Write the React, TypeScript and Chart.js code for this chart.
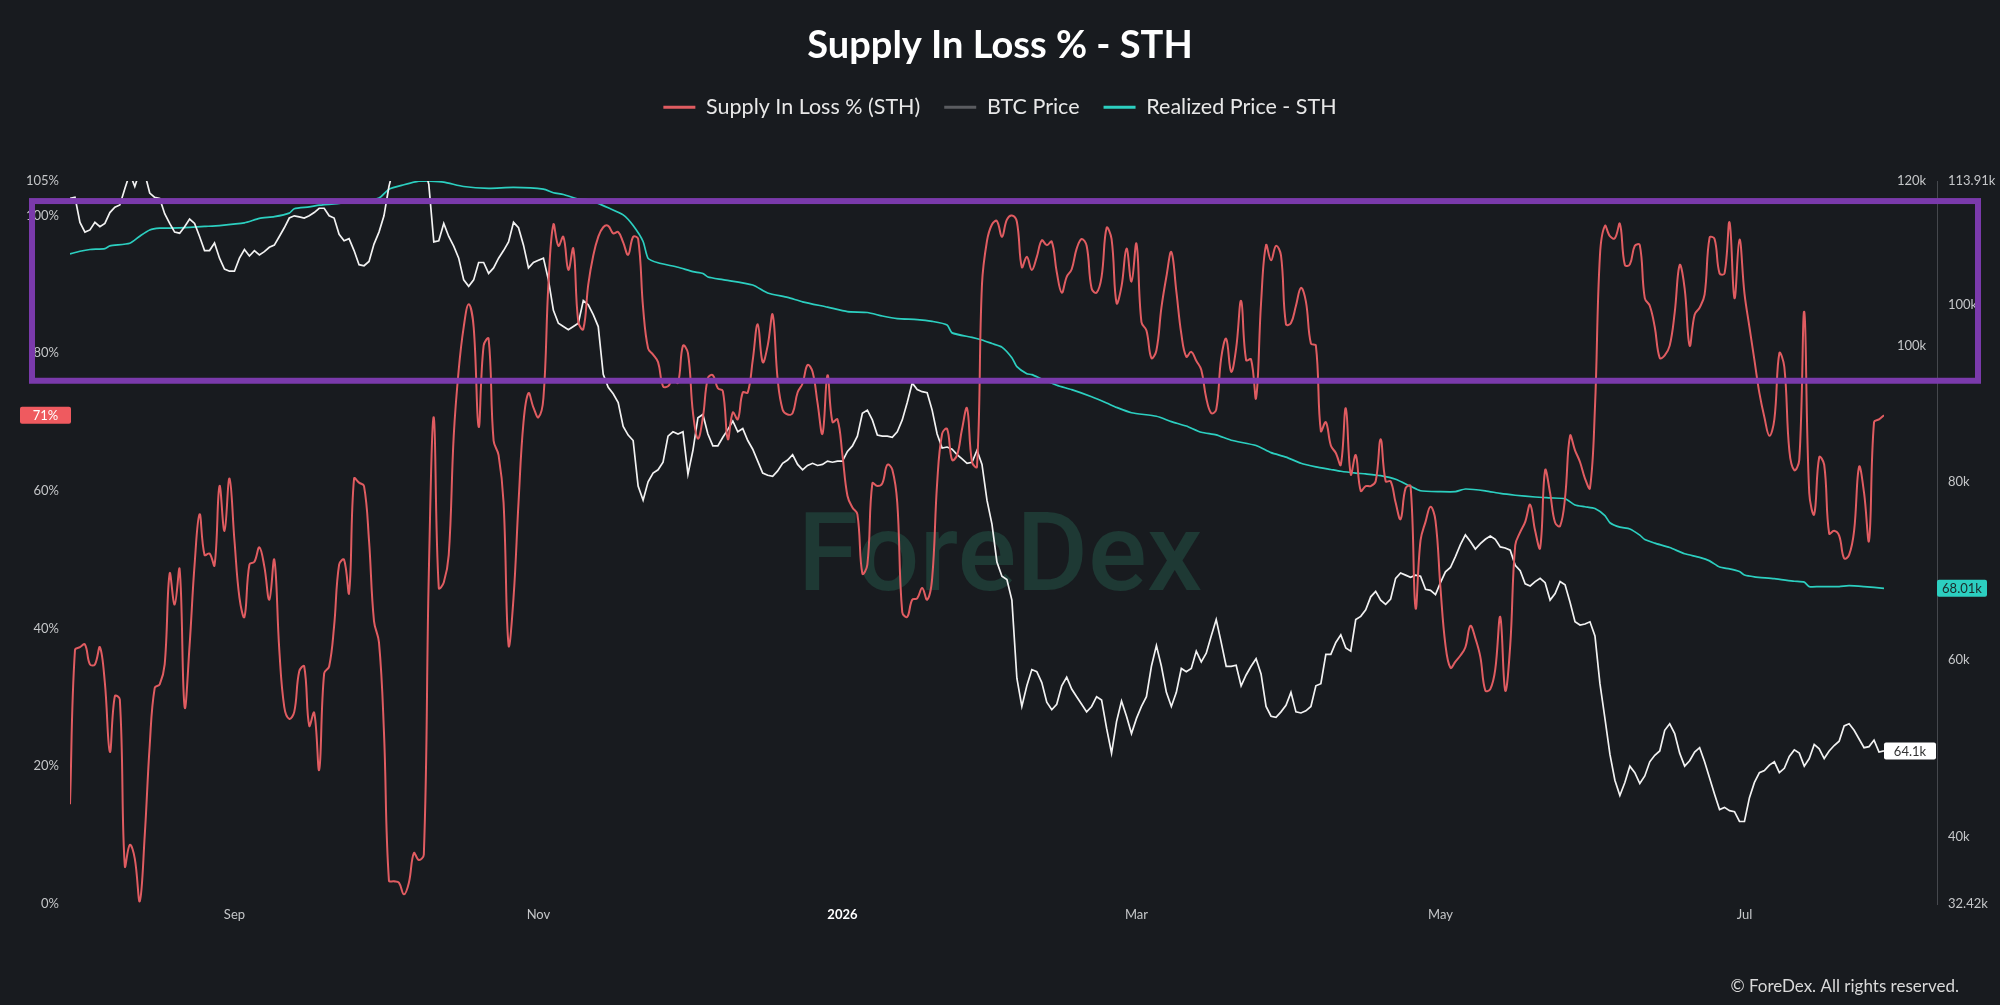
import React, { useEffect, useRef } from "react";
import { Chart, registerables } from "chart.js";

Chart.register(...registerables);

// ---------- data ----------
const START_DATE = "2025-07-30"; // day index 0

// Supply In Loss % (STH), one value per day from START_DATE
const lossPct = [
  14.5, 36.9, 37.3, 37.7, 34.8, 34.8, 37.3, 32.1, 22.1, 30.2,
  29.7, 5.5, 8.6, 6.6, 0.4, 10.0, 23.1, 31.4, 31.9, 34.8,
  48.0, 43.5, 48.6, 28.6, 37.6, 49.3, 56.6, 50.7, 50.9, 49.2,
  60.7, 54.2, 61.8, 52.8, 44.5, 41.7, 49.3, 49.7, 51.8, 49.0,
  44.2, 50.0, 36.9, 28.6, 26.9, 27.9, 33.8, 34.5, 25.9, 27.8,
  19.5, 33.5, 34.5, 40.4, 49.3, 50.0, 45.2, 61.8, 61.2, 60.7,
  52.8, 41.1, 38.0, 25.0, 3.4, 3.3, 3.1, 1.4, 3.1, 7.4,
  6.4, 7.2, 48.0, 70.7, 45.9, 46.7, 50.7, 68.0, 77.6, 83.8,
  87.1, 83.8, 69.3, 81.1, 82.1, 67.3, 65.2, 58.3, 37.6, 44.5,
  58.3, 70.0, 74.2, 72.1, 70.7, 73.5, 90.0, 98.7, 95.6, 96.9,
  92.1, 95.2, 84.5, 83.5, 90.0, 94.2, 96.9, 98.3, 98.5, 97.4,
  97.6, 96.1, 94.3, 96.9, 96.6, 86.6, 80.7, 79.8, 78.7, 75.2,
  75.2, 76.2, 75.7, 81.1, 80.0, 71.4, 67.6, 70.7, 76.4, 76.8,
  74.9, 74.5, 67.5, 71.4, 70.4, 74.3, 74.3, 79.0, 84.2, 78.7,
  81.1, 85.6, 76.2, 71.8, 71.1, 71.3, 74.3, 75.6, 78.3, 77.3,
  72.8, 68.3, 76.8, 70.0, 70.4, 65.2, 59.3, 57.6, 56.6, 48.0,
  49.3, 61.1, 60.7, 61.1, 63.8, 63.1, 58.3, 42.4, 41.7, 44.2,
  44.4, 45.9, 44.2, 47.3, 61.1, 68.3, 69.0, 64.5, 65.2, 69.0,
  72.0, 64.2, 63.5, 90.0, 96.3, 98.7, 99.2, 96.9, 99.4, 100.0,
  99.1, 92.5, 94.0, 92.1, 94.0, 96.4, 95.7, 96.2, 91.8, 88.8,
  91.1, 92.2, 95.2, 96.6, 95.6, 89.4, 88.8, 91.1, 98.2, 96.6,
  87.3, 89.7, 95.2, 90.4, 95.9, 84.5, 83.3, 79.3, 80.4, 86.6,
  91.1, 94.7, 89.0, 82.8, 79.5, 80.2, 78.9, 77.6, 73.5, 71.3,
  71.8, 79.3, 82.1, 77.3, 80.7, 87.6, 79.0, 79.1, 73.5, 87.3,
  95.7, 93.5, 95.6, 94.2, 84.2, 84.4, 86.9, 89.5, 87.5, 81.4,
  81.1, 68.7, 70.0, 66.6, 65.5, 63.8, 72.0, 62.4, 65.2, 60.0,
  60.7, 60.7, 61.4, 67.5, 61.4, 61.4, 58.3, 55.9, 60.4, 60.7,
  43.0, 52.8, 55.5, 57.7, 55.7, 45.9, 37.6, 34.3, 35.2, 36.1,
  37.3, 40.4, 38.6, 35.9, 31.0, 31.2, 34.1, 41.7, 31.0, 37.6,
  52.1, 54.0, 55.5, 58.0, 54.2, 51.7, 63.0, 59.7, 55.4, 54.9,
  59.0, 68.0, 65.9, 64.2, 61.8, 60.4, 72.1, 94.2, 98.5, 97.0,
  96.7, 98.8, 92.8, 92.9, 95.6, 95.7, 88.0, 86.9, 83.8, 79.3,
  79.7, 81.1, 85.9, 92.8, 89.4, 81.1, 85.6, 86.6, 88.5, 96.8,
  96.6, 91.6, 91.6, 99.0, 88.0, 96.5, 88.7, 83.8, 79.0, 74.2,
  70.7, 68.0, 70.4, 80.0, 78.0, 65.9, 63.0, 64.5, 86.0, 59.7,
  56.6, 64.9, 63.8, 53.8, 54.2, 53.5, 50.2, 50.7, 54.2, 63.5,
  59.7, 52.8, 70.0, 70.4, 71.0,
];

// BTC price (thousands USD), one value per day from START_DATE
const btcPriceK = [
  115.0, 115.1, 112.8, 111.9, 112.1, 112.8, 112.4, 112.7, 113.7, 114.2,
  114.4, 115.9, 117.3, 116.1, 117.5, 117.3, 115.5, 115.1, 115.0, 113.6,
  112.7, 111.9, 111.8, 112.4, 113.1, 112.7, 111.5, 110.2, 110.2, 110.9,
  109.5, 108.5, 108.3, 108.3, 109.5, 110.3, 109.7, 110.2, 109.8, 110.1,
  110.5, 110.7, 111.5, 112.3, 113.2, 113.4, 113.3, 113.2, 113.4, 113.7,
  114.1, 114.1, 113.4, 113.2, 111.7, 111.1, 111.3, 110.2, 108.9, 108.8,
  109.2, 110.8, 111.9, 113.4, 116.1, 118.0, 119.0, 119.5, 119.0, 119.0,
  118.5, 118.0, 116.3, 111.0, 111.1, 112.7, 111.5, 110.6, 109.5, 107.5,
  106.9, 107.5, 109.1, 109.1, 108.1, 108.6, 109.5, 110.2, 111.0, 112.8,
  112.3, 110.7, 108.6, 109.1, 109.3, 109.5, 107.5, 104.7, 103.5, 103.2,
  102.9, 103.2, 103.5, 105.6, 105.2, 104.3, 103.2, 98.8, 97.6, 97.0,
  96.2, 94.0, 93.2, 92.7, 88.5, 87.2, 88.9, 89.7, 90.0, 90.7,
  93.1, 93.5, 93.3, 93.5, 89.6, 91.8, 94.8, 95.1, 93.3, 92.2,
  92.2, 93.0, 93.7, 94.5, 93.5, 93.8, 92.7, 91.9, 90.8, 89.7,
  89.5, 89.4, 89.9, 90.6, 90.9, 91.4, 90.5, 90.0, 90.4, 90.6,
  90.4, 90.5, 90.8, 90.7, 90.8, 90.8, 91.7, 92.2, 93.1, 95.2,
  95.5, 94.6, 93.2, 93.1, 93.1, 93.0, 93.5, 94.6, 96.2, 98.0,
  97.4, 97.2, 97.1, 95.5, 93.3, 92.0, 92.1, 91.9, 91.4, 91.0,
  90.6, 90.7, 91.8, 90.5, 87.2, 85.0, 81.5, 80.2, 79.9, 78.0,
  70.8, 68.2, 70.1, 71.6, 71.4, 70.4, 68.6, 67.9, 68.4, 70.1,
  70.9, 69.8, 69.1, 68.4, 67.7, 68.2, 69.1, 68.8, 66.2, 63.9,
  66.8, 68.7, 67.3, 65.7, 67.1, 68.2, 69.1, 71.9, 73.8, 71.9,
  69.5, 68.2, 69.5, 71.7, 71.4, 71.7, 73.3, 72.3, 73.1, 74.7,
  76.2, 74.1, 71.9, 71.9, 72.0, 70.1, 71.1, 71.9, 72.6, 71.2,
  68.2, 67.3, 67.2, 67.7, 68.3, 69.5, 67.7, 67.6, 67.8, 68.2,
  70.1, 70.3, 73.0, 73.0, 74.1, 74.8, 73.6, 73.3, 76.2, 76.5,
  77.1, 78.3, 78.8, 78.0, 77.6, 78.1, 80.0, 80.5, 80.3, 80.1,
  80.3, 80.2, 79.0, 78.9, 78.5, 79.6, 80.6, 81.0, 82.0, 83.1,
  84.0, 83.4, 82.7, 83.2, 83.6, 83.9, 83.6, 82.9, 82.8, 82.6,
  81.2, 80.7, 79.5, 79.3, 79.7, 80.0, 79.6, 78.0, 78.6, 79.7,
  79.4, 77.8, 76.0, 75.7, 75.8, 76.0, 74.7, 70.3, 67.1, 63.8,
  61.4, 60.0, 61.2, 62.7, 62.1, 61.1, 61.8, 63.1, 63.7, 64.1,
  66.0, 66.6, 65.7, 63.9, 62.7, 63.2, 64.0, 64.4, 63.1, 61.6,
  60.1, 58.7, 58.9, 58.6, 58.5, 57.6, 57.6, 59.8, 61.2, 62.1,
  62.3, 62.8, 63.1, 62.1, 62.5, 63.6, 64.2, 63.9, 62.7, 63.4,
  64.7, 64.3, 63.4, 64.1, 64.6, 65.0, 66.4, 66.6, 66.0, 65.2,
  64.4, 64.5, 65.1, 64.0, 64.1,
];

// Realized Price - STH (thousands USD), sampled days
const realizedDays = [
  0, 2, 4, 7, 8, 12, 14, 16, 18, 20, 24, 27, 30, 35, 38, 41, 44, 45, 48, 50,
  54, 58, 62, 64, 67, 70, 72, 75, 79, 84, 89, 95, 97, 99, 102, 104, 106, 108, 111, 113,
  115, 116, 118, 122, 125, 127, 128, 131, 137, 140, 144, 147, 152, 156, 160, 163, 166, 170, 173, 176,
  177, 181, 183, 185, 187, 189, 190, 192, 193, 195, 198, 201, 205, 208, 210, 213, 218, 221, 224, 227,
  230, 233, 238, 241, 244, 247, 250, 253, 255, 258, 260, 263, 266, 269, 271, 275, 278, 280, 284, 287,
  290, 294, 297, 300, 302, 304, 306, 308, 309, 311, 313, 315, 316, 318, 321, 324, 327, 329, 331, 333,
  335, 336, 338, 342, 346, 348, 349, 351, 355, 357, 360, 364,
];
const realizedK = [
  105.7, 106.0, 106.2, 106.3, 106.6, 106.9, 107.7, 108.4, 108.6, 108.6, 108.7, 108.8, 108.9, 109.2, 109.7, 109.9, 110.3, 110.8, 111.0, 111.2,
  111.4, 111.6, 112.0, 113.0, 113.5, 113.91, 113.9, 113.8, 113.3, 113.1, 113.2, 113.0, 112.6, 112.4, 111.9, 111.8, 111.4, 110.9, 110.1, 108.9,
  107.1, 105.2, 104.7, 104.2, 103.7, 103.5, 103.1, 102.8, 102.2, 101.3, 100.8, 100.3, 99.7, 99.2, 99.1, 98.7, 98.4, 98.3, 98.1, 97.7,
  96.8, 96.3, 96.0, 95.6, 95.2, 94.0, 93.0, 92.2, 92.1, 91.6, 90.9, 90.4, 89.6, 88.9, 88.4, 87.8, 87.4, 86.8, 86.3, 85.6,
  85.3, 84.7, 84.1, 83.3, 82.8, 82.1, 81.7, 81.4, 81.2, 81.0, 80.9, 80.7, 80.3, 79.5, 79.0, 78.9, 78.9, 79.2, 79.0, 78.7,
  78.5, 78.3, 78.2, 78.1, 77.4, 77.2, 77.0, 76.2, 75.4, 74.9, 74.7, 74.0, 73.5, 73.1, 72.6, 71.9, 71.5, 71.1, 70.4, 70.2,
  69.9, 69.5, 69.3, 69.1, 68.8, 68.7, 68.2, 68.2, 68.2, 68.3, 68.2, 68.01,
];

// x-axis ticks
const monthTickDates = ["2025-09-01", "2025-11-01", "2026-01-01", "2026-03-01", "2026-05-01", "2026-07-01"];
const monthTickLabels = ["Sep", "Nov", "2026", "Mar", "May", "Jul"];
// y-axis ticks
const lossTicks = [0, 20, 40, 60, 80, 100, 105];
const innerPriceTicks = [100, 120];
const realizedTicks = [32.42, 40, 60, 80, 100, 113.91];

const seriesLabels = ["Supply In Loss % (STH)", "BTC Price", "Realized Price - STH"];

// highlight box (in Supply-in-loss % units)
const highlightTopPct = 102.1;
const highlightBottomPct = 76.0;

// ---------- styles ----------
const BG = "#181b1f";
const FONT = "Lato, 'Open Sans', sans-serif";
const RED = "#e05c61";
const RED_BADGE = "#ef5a5f";
const WHITE = "#f2f2f2";
const CYAN = "#2ccfc0";
const LEGEND_COLORS = [RED, "#5a5c60", CYAN];
const TICK_COLOR = "#c4c6c8";

const DAY_MS = 86400000;
const dayIndex = (iso: string) => Math.round((Date.parse(iso) - Date.parse(START_DATE)) / DAY_MS);
const monthTickDays = monthTickDates.map(dayIndex);

function roundRect(ctx: CanvasRenderingContext2D, x: number, y: number, w: number, h: number, r: number) {
  ctx.beginPath();
  ctx.moveTo(x + r, y);
  ctx.lineTo(x + w - r, y);
  ctx.quadraticCurveTo(x + w, y, x + w, y + r);
  ctx.lineTo(x + w, y + h - r);
  ctx.quadraticCurveTo(x + w, y + h, x + w - r, y + h);
  ctx.lineTo(x + r, y + h);
  ctx.quadraticCurveTo(x, y + h, x, y + h - r);
  ctx.lineTo(x, y + r);
  ctx.quadraticCurveTo(x, y, x + r, y);
  ctx.closePath();
}

function badge(ctx: CanvasRenderingContext2D, x: number, yc: number, w: number, bg: string, fg: string, text: string) {
  const h = 17;
  ctx.save();
  ctx.fillStyle = bg;
  roundRect(ctx, x, yc - h / 2, w, h, 2);
  ctx.fill();
  ctx.fillStyle = fg;
  ctx.font = `13px ${FONT}`;
  ctx.textAlign = "center";
  ctx.textBaseline = "middle";
  ctx.fillText(text, x + w / 2, yc + 0.5);
  ctx.restore();
}

export default function App() {
  const canvasRef = useRef<HTMLCanvasElement>(null);

  useEffect(() => {
    document.body.style.margin = "0";
    document.body.style.background = BG;
    const canvas = canvasRef.current;
    if (!canvas) return;

    const lossData = lossPct.map((v, i) => ({ x: i, y: v }));
    const btcData = btcPriceK.map((v, i) => ({ x: i, y: v }));
    const realizedData = realizedDays.map((d, i) => ({ x: d, y: realizedK[i] }));

    const overlay = {
      id: "overlay",
      beforeInit(chart: any) {
        const legend = chart.legend;
        if (legend) {
          const fit = legend.fit;
          legend.fit = function () {
            fit.call(this);
            this.height += 53;
          };
        }
      },
      beforeDatasetsDraw(chart: any) {
        const { ctx, chartArea } = chart;
        ctx.save();
        ctx.font = `500 110px Roboto, ${FONT}`;
        ctx.fillStyle = "#1e3934";
        ctx.textAlign = "center";
        ctx.textBaseline = "alphabetic";
        ctx.fillText("ForeDex", chart.width / 2, (chartArea.top + chartArea.bottom) / 2 + 47);
        ctx.restore();
      },
      afterDraw(chart: any) {
        const { ctx, chartArea, scales } = chart;
        const yLoss = scales.yLoss;
        const yBtc = scales.yBtc;
        const yReal = scales.yReal;
        const yInner = scales.yInner;

        const lastLoss = lossPct[lossPct.length - 1];
        const lastBtc = btcPriceK[btcPriceK.length - 1];
        const lastReal = realizedK[realizedK.length - 1];

        badge(ctx, chartArea.left - 50, yLoss.getPixelForValue(lastLoss), 51, RED_BADGE, "#ffffff", `${Math.round(lastLoss)}%`);
        badge(ctx, yReal.left, yReal.getPixelForValue(lastReal), 50, CYAN, "#1b2a2a", `${lastReal.toFixed(2)}k`);
        badge(ctx, yInner.left, yBtc.getPixelForValue(lastBtc), yInner.right - yInner.left - 1, "#ffffff", "#333333", `${lastBtc}k`);

        // highlight box
        const top = yLoss.getPixelForValue(highlightTopPct);
        const bottom = yLoss.getPixelForValue(highlightBottomPct);
        ctx.save();
        ctx.strokeStyle = "#7a3aab";
        ctx.lineWidth = 6;
        ctx.strokeRect(32, top, chart.width - 22 - 32, bottom - top);
        ctx.restore();

        // copyright
        ctx.save();
        ctx.font = `17px ${FONT}`;
        ctx.fillStyle = "#d9d9d9";
        ctx.textAlign = "right";
        ctx.textBaseline = "middle";
        ctx.fillText("\u00A9 ForeDex. All rights reserved.", chart.width - 41, 987);
        ctx.restore();
      },
    };

    const tickFont = { family: FONT, size: 13 };

    const chart = new Chart(canvas, {
      type: "line",
      data: {
        datasets: [
          {
            label: seriesLabels[0],
            data: lossData,
            yAxisID: "yLoss",
            borderColor: RED,
            backgroundColor: RED,
            borderWidth: 2,
            pointRadius: 0,
            tension: 0.4,
          },
          {
            label: seriesLabels[1],
            data: btcData,
            yAxisID: "yBtc",
            borderColor: WHITE,
            backgroundColor: WHITE,
            borderWidth: 1.7,
            pointRadius: 0,
            tension: 0,
          },
          {
            label: seriesLabels[2],
            data: realizedData,
            yAxisID: "yReal",
            borderColor: CYAN,
            backgroundColor: CYAN,
            borderWidth: 1.7,
            pointRadius: 0,
            tension: 0.2,
          },
        ],
      } as any,
      options: {
        animation: false,
        responsive: true,
        maintainAspectRatio: false,
        layout: { padding: { top: 0, left: 0, right: 0, bottom: 81 } },
        plugins: {
          tooltip: { enabled: false },
          title: {
            display: true,
            text: "Supply In Loss % - STH",
            color: "#ffffff",
            font: { family: FONT, size: 38, weight: "bold" },
            padding: { top: 23, bottom: 4 },
          },
          legend: {
            display: true,
            position: "top",
            labels: {
              color: "#e8e8e8",
              font: { family: FONT, size: 21.5 },
              boxWidth: 32,
              boxHeight: 3,
              padding: 24,
              generateLabels: (c: any) =>
                c.data.datasets.map((ds: any, i: number) => ({
                  text: ds.label,
                  fillStyle: LEGEND_COLORS[i],
                  strokeStyle: LEGEND_COLORS[i],
                  lineWidth: 0,
                  hidden: false,
                  fontColor: "#e8e8e8",
                  datasetIndex: i,
                })),
            },
          },
        },
        scales: {
          x: {
            type: "linear",
            min: 0,
            max: lossPct.length - 1,
            grid: { display: false, drawTicks: false },
            border: { display: false },
            afterBuildTicks: (s: any) => {
              s.ticks = monthTickDays.map((v) => ({ value: v }));
            },
            afterFit: (s: any) => {
              s.height = 20;
            },
            ticks: {
              autoSkip: false,
              maxRotation: 0,
              padding: 3,
              callback: (v: any) => {
                const i = monthTickDays.indexOf(Number(v));
                return i >= 0 ? monthTickLabels[i] : "";
              },
              color: (ctx: any) => (ctx.tick && ctx.tick.label === "2026" ? "#ffffff" : TICK_COLOR),
              font: (ctx: any) => ({
                family: FONT,
                size: 13,
                weight: ctx.tick && ctx.tick.label === "2026" ? "bold" : "normal",
              }),
            },
          },
          yLoss: {
            type: "linear",
            position: "left",
            min: 0,
            max: 105,
            grid: { display: false, drawTicks: false },
            border: { display: false },
            afterBuildTicks: (s: any) => {
              s.ticks = lossTicks.map((v) => ({ value: v }));
            },
            afterFit: (s: any) => {
              s.width = 70;
            },
            ticks: {
              padding: 11,
              color: TICK_COLOR,
              font: tickFont,
              callback: (v: any) => `${v}%`,
            },
          },
          yInner: {
            type: "linear",
            position: "right",
            weight: 0,
            min: realizedTicks[0],
            max: 120,
            grid: { display: false, drawTicks: false },
            border: { display: false },
            afterBuildTicks: (s: any) => {
              s.ticks = innerPriceTicks.map((v) => ({ value: v }));
            },
            afterFit: (s: any) => {
              s.width = 53;
            },
            ticks: {
              padding: 13,
              color: TICK_COLOR,
              font: tickFont,
              callback: (v: any) => `${v}k`,
            },
          },
          yReal: {
            type: "linear",
            position: "right",
            weight: 1,
            min: realizedTicks[0],
            max: realizedTicks[realizedTicks.length - 1],
            grid: { display: false, drawTicks: false },
            border: { display: true, color: "#45484d", width: 1 },
            afterBuildTicks: (s: any) => {
              s.ticks = realizedTicks.map((v) => ({ value: v }));
            },
            afterFit: (s: any) => {
              s.width = 63;
            },
            ticks: {
              padding: 11,
              color: TICK_COLOR,
              font: tickFont,
              callback: (v: any) => `${Number(Number(v).toFixed(2))}k`,
            },
          },
          yBtc: {
            type: "linear",
            display: false,
            min: 50,
            max: 116.6,
          },
        },
      } as any,
      plugins: [overlay as any],
    });

    return () => chart.destroy();
  }, []);

  return (
    <div style={{ width: 2000, height: 1005, position: "relative", background: BG }}>
      <canvas ref={canvasRef} />
    </div>
  );
}
